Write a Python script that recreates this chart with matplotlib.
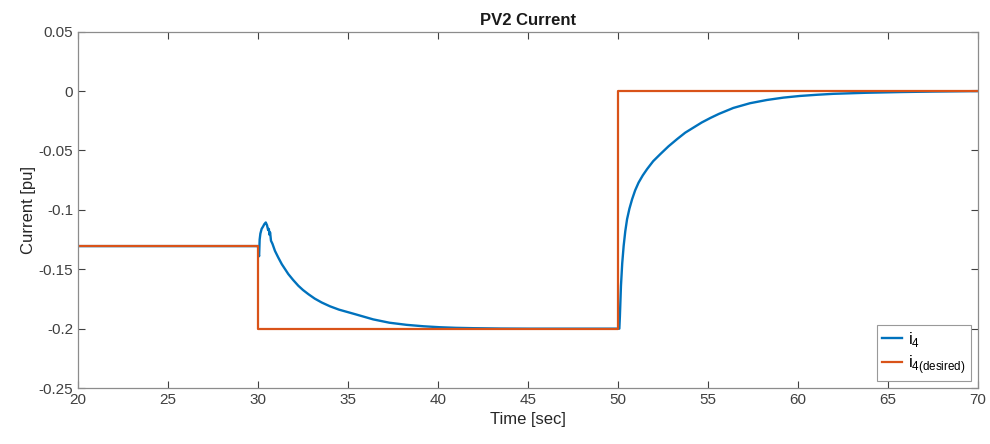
import numpy as np
import matplotlib
matplotlib.use('Agg')
import matplotlib.pyplot as plt

plt.rcParams['font.family'] = ['Liberation Sans', 'DejaVu Sans']
plt.rcParams['mathtext.fontset'] = 'custom'
plt.rcParams['mathtext.rm'] = 'Liberation Sans'

t_meas = [20.0, 29.98, 30.0, 30.03, 30.06, 30.09, 30.13, 30.2, 30.28, 30.35,
          30.43, 30.5, 30.56, 30.6, 30.64, 30.67, 30.72, 30.8, 30.94, 31.12,
          31.32, 31.68, 31.95, 32.24, 32.5, 32.8, 33.15, 33.54, 34.0, 34.5,
          35.39, 36.4, 37.3, 38.26, 39.2, 40.1, 41.0, 41.96, 43.5, 45.0,
          49.98, 50.07, 50.1, 50.16, 50.23, 50.31, 50.4, 50.5, 50.63, 50.78,
          50.95, 51.14, 51.37, 51.61, 51.95, 52.35, 52.8, 53.28, 53.73, 54.2,
          54.65, 55.13, 55.6, 56.4, 57.33, 58.26, 59.18, 60.1, 61.04, 61.96,
          63.8, 65.7, 67.5, 70.0]
i_meas = [-0.1305, -0.1305, -0.1305, -0.137, -0.139, -0.125, -0.12, -0.116, -0.114, -0.112,
          -0.1106, -0.113, -0.117, -0.116, -0.121, -0.119, -0.126, -0.1285, -0.1345, -0.14,
          -0.1457, -0.154, -0.159, -0.1639, -0.1675, -0.171, -0.1747, -0.178, -0.1812, -0.184,
          -0.1878, -0.1922, -0.1950, -0.1968, -0.198, -0.1988, -0.1993, -0.1996, -0.1999, -0.2,
          -0.2, -0.2, -0.19, -0.164, -0.145, -0.1303, -0.118, -0.1078, -0.099, -0.091,
          -0.0835, -0.077, -0.071, -0.0657, -0.059, -0.053, -0.0465, -0.0404, -0.035, -0.0306,
          -0.0264, -0.0226, -0.0192, -0.0142, -0.0102, -0.0075, -0.0055, -0.0041, -0.0031, -0.0023,
          -0.0014, -0.0008, -0.0004, 0.0]

# reference current i4(desired)
t_ref = [20, 30, 30, 50, 50, 70]
i_ref = [-0.13, -0.13, -0.2, -0.2, 0.0, 0.0]

xticks = np.arange(20, 71, 5)
yticks = [0.05, 0, -0.05, -0.1, -0.15, -0.2, -0.25]
ytick_labels = ['0.05', '0', '-0.05', '-0.1', '-0.15', '-0.2', '-0.25']

fig = plt.figure(figsize=(9.9, 4.44), dpi=100)
ax = fig.add_axes([0.0788, 0.126, 0.9092, 0.8026])

ax.plot(t_meas, i_meas, color='#0072BD', lw=1.7, label=r'i$_{\mathrm{4}}$')
ax.plot(t_ref, i_ref, color='#D95319', lw=1.6, label=r'i$_{\mathrm{4(desired)}}$')

ax.set_xlim(20, 70)
ax.set_ylim(-0.25, 0.05)
ax.set_xticks(xticks)
ax.set_yticks(yticks)
ax.set_yticklabels(ytick_labels)
ax.tick_params(direction='in', length=5, colors='#404040', labelsize=11,
               top=True, right=True, labeltop=False, labelright=False)
for s in ax.spines.values():
    s.set_color('#8c8c8c')
    s.set_linewidth(0.9)

ax.set_xlabel('Time [sec]', fontsize=12, color='#262626')
ax.set_ylabel('Current [pu]', fontsize=12, color='#262626', labelpad=2)
ax.set_title('PV2 Current', fontsize=12, fontweight='bold', color='#1a1a1a', pad=5)

leg = ax.legend(loc='lower right', fontsize=12, handlelength=1.2, handletextpad=0.35,
                fancybox=False, framealpha=1, edgecolor='#999999',
                borderaxespad=0.45, labelspacing=0.2, borderpad=0.3)
leg.get_frame().set_linewidth(0.8)

fig.savefig('out.png', dpi=100)
